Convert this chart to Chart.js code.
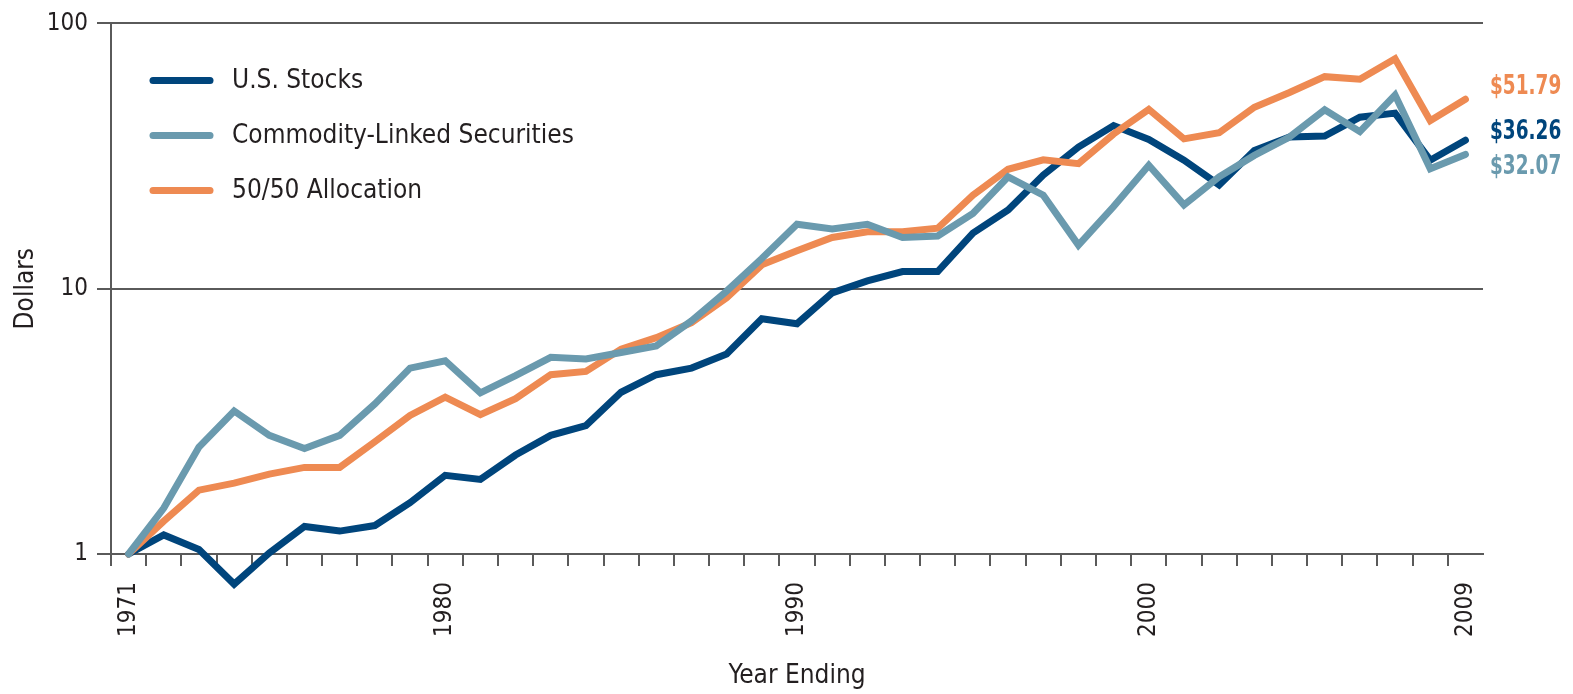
<!DOCTYPE html>
<html>
<head>
<meta charset="utf-8">
<title>Growth of a Dollar</title>
<script src="https://cdn.jsdelivr.net/npm/chart.js@4.4.1/dist/chart.umd.min.js"></script>
<style>
  html, body { margin: 0; padding: 0; background: #ffffff; }
  #wrap { position: relative; width: 1573px; height: 694px; }
</style>
</head>
<body>
<div id="wrap"><canvas id="growth"></canvas></div>
<script>
// Year-end values of $1 invested at the start of the period
const years = ['1971','1972','1973','1974','1975','1976','1977','1978','1979','1980',
               '1981','1982','1983','1984','1985','1986','1987','1988','1989','1990',
               '1991','1992','1993','1994','1995','1996','1997','1998','1999','2000',
               '2001','2002','2003','2004','2005','2006','2007','2008','2009'];
const labeledYears = ['1971', '1980', '1990', '2000', '2009'];
const dollarTicks = [1, 10, 100];

const usStocks = [1.00, 1.18, 1.04, 0.77, 1.01, 1.27, 1.22, 1.28, 1.56, 1.98,
                  1.91, 2.36, 2.80, 3.05, 4.07, 4.74, 5.02, 5.67, 7.71, 7.38,
                  9.64, 10.7, 11.6, 11.6, 16.2, 19.8, 26.8, 34.2, 41.2, 36.5,
                  30.5, 24.6, 33.2, 37.3, 37.6, 44.3, 45.9, 30.5, 36.26];
const commodityLinked = [1.00, 1.49, 2.53, 3.46, 2.80, 2.50, 2.80, 3.68, 5.02, 5.35,
                         4.05, 4.70, 5.51, 5.43, 5.75, 6.09, 7.56, 9.79, 13.0, 17.5,
                         16.8, 17.5, 15.6, 15.8, 19.2, 26.4, 22.5, 14.6, 20.4, 29.2,
                         20.7, 26.4, 31.8, 37.3, 47.3, 39.1, 53.7, 28.3, 32.07];
const fiftyFifty = [1.00, 1.33, 1.74, 1.85, 2.00, 2.12, 2.12, 2.65, 3.33, 3.90,
                    3.35, 3.85, 4.74, 4.88, 5.92, 6.54, 7.45, 9.24, 12.3, 13.9,
                    15.6, 16.4, 16.4, 16.9, 22.5, 28.2, 30.6, 29.6, 38.3, 47.4,
                    36.7, 38.7, 48.3, 54.9, 63.0, 61.6, 73.6, 43.0, 51.79];

const FONT = "'Liberation Sans Narrow', 'DejaVu Sans Condensed', 'Roboto', sans-serif";
const INK = '#231f20';
const AXIS = '#5a5a5a';
const NAVY = '#00457c';
const TEAL = '#6a9aae';
const ORANGE = '#ee8a52';

// Series key drawn inside the plot, upper left
const seriesKey = {
  id: 'seriesKey',
  afterDraw(chart) {
    const { ctx, chartArea } = chart;
    ctx.save();
    ctx.font = `26px ${FONT}`;
    ctx.textBaseline = 'middle';
    ctx.textAlign = 'left';
    chart.data.datasets.forEach((ds, i) => {
      const y = chartArea.top + 57 + i * 55;
      ctx.strokeStyle = ds.borderColor;
      ctx.lineWidth = 7;
      ctx.lineCap = 'round';
      ctx.beginPath();
      ctx.moveTo(chartArea.left + 42, y);
      ctx.lineTo(chartArea.left + 99, y);
      ctx.stroke();
      ctx.fillStyle = INK;
      ctx.fillText(ds.label, chartArea.left + 121, y + 1);
    });
    ctx.restore();
  }
};

// Ending value written next to the last point of each line, in a narrow bold face
const endValues = {
  id: 'endValues',
  afterDraw(chart) {
    const { ctx, chartArea } = chart;
    ctx.save();
    ctx.font = `bold 27px ${FONT}`;
    ctx.textBaseline = 'middle';
    ctx.textAlign = 'left';
    chart.data.datasets.forEach((ds, i) => {
      const meta = chart.getDatasetMeta(i);
      const last = meta.data[meta.data.length - 1];
      const value = ds.data[ds.data.length - 1];
      ctx.save();
      ctx.translate(chartArea.right + 7, last.y + (ds.endLabelNudge || 0));
      ctx.scale(0.76, 1);
      ctx.fillStyle = ds.borderColor;
      ctx.fillText('$' + value.toFixed(2), 0, 0);
      ctx.restore();
    });
    ctx.restore();
  }
};

const line = (label, data, color, order, nudge) => ({
  label, data,
  borderColor: color,
  backgroundColor: color,
  borderWidth: 7,
  borderCapStyle: 'round',
  pointRadius: 0,
  pointHoverRadius: 0,
  tension: 0,
  fill: false,
  clip: false,
  order,
  endLabelNudge: nudge
});

new Chart(document.getElementById('growth'), {
  type: 'line',
  data: {
    labels: years,
    datasets: [
      line('U.S. Stocks', usStocks, NAVY, 3, -8),
      line('Commodity-Linked Securities', commodityLinked, TEAL, 1, 13),
      line('50/50 Allocation', fiftyFifty, ORANGE, 2, -12)
    ]
  },
  options: {
    responsive: true,
    maintainAspectRatio: false,
    animation: false,
    layout: { padding: { top: 20, right: 90, bottom: 0, left: 0 } },
    plugins: {
      legend: { display: false },
      tooltip: { enabled: false }
    },
    scales: {
      x: {
        type: 'category',
        offset: true,
        grid: {
          offset: true,
          drawOnChartArea: false,
          drawTicks: true,
          tickLength: 12,
          lineWidth: 2,
          color: (c) => (c.index === undefined ? 'rgba(0,0,0,0)' : AXIS)
        },
        border: { display: true, color: AXIS, width: 2 },
        ticks: {
          autoSkip: false,
          minRotation: 90,
          maxRotation: 90,
          padding: 16,
          color: INK,
          font: { family: FONT, size: 24 },
          callback(value) {
            const lbl = this.getLabelForValue(value);
            return labeledYears.includes(lbl) ? lbl : '';
          }
        },
        title: {
          display: true,
          text: 'Year Ending',
          color: INK,
          font: { family: FONT, size: 26 },
          padding: { top: 0, bottom: 2 }
        },
        afterFit(scale) { scale.height = 140; }
      },
      y: {
        type: 'logarithmic',
        min: 1,
        max: 100,
        afterBuildTicks(scale) {
          scale.ticks = dollarTicks.map((v) => ({ value: v }));
        },
        grid: { color: AXIS, lineWidth: 2, tickLength: 14, drawTicks: true },
        border: { display: true, color: AXIS, width: 2 },
        ticks: {
          padding: 9,
          color: INK,
          font: { family: FONT, size: 24 },
          callback: (v) => String(v)
        },
        title: {
          display: true,
          text: 'Dollars',
          color: INK,
          font: { family: FONT, size: 26 },
          padding: { top: 11, bottom: 0 }
        },
        afterFit(scale) { scale.width = 111; }
      }
    }
  },
  plugins: [seriesKey, endValues]
});
</script>
</body>
</html>
